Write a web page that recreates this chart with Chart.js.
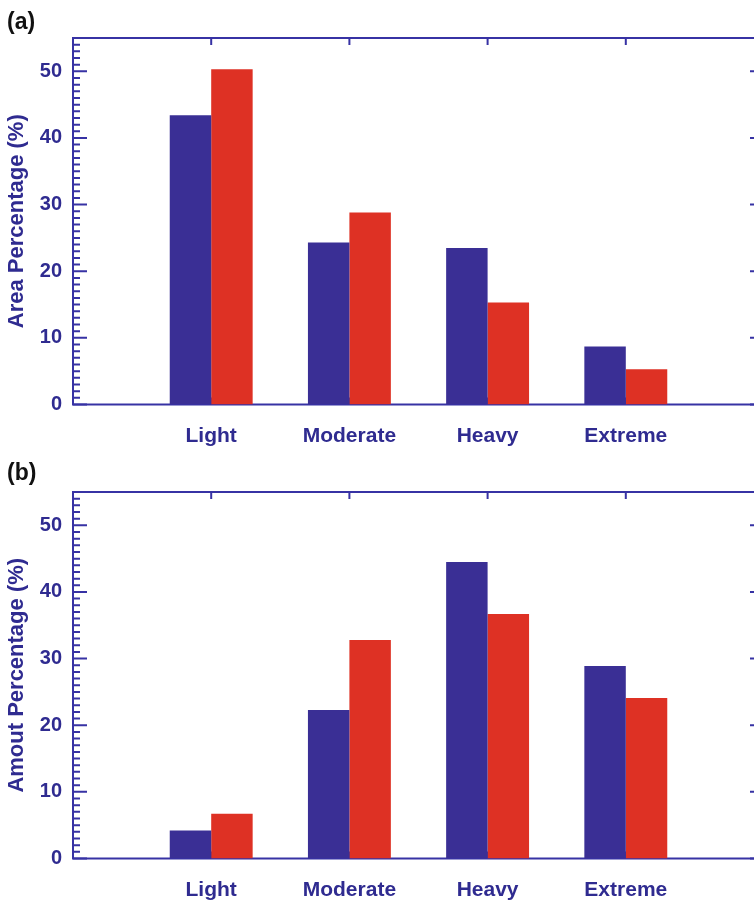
<!DOCTYPE html>
<html>
<head>
<meta charset="utf-8">
<script src="https://cdn.jsdelivr.net/npm/chart.js@4.4.1/dist/chart.umd.min.js"></script>
<style>
  html, body { margin: 0; padding: 0; background: #fff; overflow: hidden; width: 754px; height: 902px; }
  canvas { position: absolute; left: 0; }
  #chartA { top: 0; }
  #chartB { top: 454px; }
  .tag { position: absolute; left: 7px; font: bold 23px 'Liberation Sans', Arial, sans-serif; color: #111; line-height: 26px; }
</style>
</head>
<body>
<canvas id="chartA" width="783" height="460"></canvas>
<canvas id="chartB" width="783" height="460"></canvas>
<div class="tag" style="top:8px">(a)</div>
<div class="tag" style="top:459px">(b)</div>
<script>
// Rain intensity classes
const categories = ['Light', 'Moderate', 'Heavy', 'Extreme'];

// Panel (a): area percentage (%)
const areaBlue = [43.4, 24.3, 23.5, 8.7];
const areaRed  = [50.3, 28.8, 15.3, 5.3];

// Panel (b): amount percentage (%)
const amountBlue = [4.2, 22.3, 44.5, 28.9];
const amountRed  = [6.7, 32.8, 36.7, 24.1];

// Labelled y ticks; minor ticks every unit up to the axis top
const yTicks = [0, 10, 20, 30, 40, 50];
const yMax = 55;

const TEXT = '#2f2b90';
const AXIS = '#3732a4';
const BLUE = '#3a2f95';
const RED = '#de3124';
const FAMILY = "'Liberation Sans', Arial, Helvetica, sans-serif";

// Empty slots either side so the bars sit one category in from each edge
const xLabels = [''].concat(categories, ['']);
const padSeries = arr => [null].concat(arr, [null]);

// Boxed frame with inward ticks: majors/minors on both sides, category ticks top and bottom
const framePlugin = {
  id: 'frame',
  beforeDatasetsDraw(chart) {
    const { ctx, chartArea: a, scales: { x, y } } = chart;
    ctx.save();
    ctx.strokeStyle = AXIS;
    ctx.lineWidth = 2;
    ctx.beginPath();
    for (let v = 0; v <= yMax; v++) {
      const py = y.getPixelForValue(v);
      const len = yTicks.includes(v) ? 14 : 7;
      ctx.moveTo(a.left, py); ctx.lineTo(a.left + len, py);
      ctx.moveTo(a.right, py); ctx.lineTo(a.right - len, py);
    }
    categories.forEach((c, i) => {
      const px = x.getPixelForValue(i + 1);
      ctx.moveTo(px, a.top); ctx.lineTo(px, a.top + 7);
      ctx.moveTo(px, a.bottom); ctx.lineTo(px, a.bottom - 7);
    });
    ctx.stroke();
    ctx.strokeRect(a.left, a.top, a.right - a.left, a.bottom - a.top);
    ctx.restore();
  }
};

function makeChart(id, yTitle, first, second) {
  return new Chart(document.getElementById(id), {
    type: 'bar',
    data: {
      labels: xLabels,
      datasets: [
        { data: padSeries(first), backgroundColor: BLUE, borderWidth: 0 },
        { data: padSeries(second), backgroundColor: RED, borderWidth: 0 }
      ]
    },
    options: {
      responsive: false,
      animation: false,
      devicePixelRatio: 1,
      barPercentage: 1,
      categoryPercentage: 0.6,
      layout: { padding: { top: 38, right: 0, left: 0, bottom: 0 } },
      plugins: { legend: { display: false }, tooltip: { enabled: false } },
      scales: {
        x: {
          type: 'category',
          offset: false,
          grid: { display: false, drawTicks: false },
          border: { display: false },
          ticks: {
            autoSkip: false, maxRotation: 0, minRotation: 0, padding: 19,
            color: TEXT, font: { family: FAMILY, size: 21, weight: 'bold' }
          },
          afterFit: s => { s.height = 55.5; }
        },
        y: {
          min: 0,
          max: yMax,
          grid: { display: false, drawTicks: false },
          border: { display: false },
          afterBuildTicks: s => { s.ticks = yTicks.map(v => ({ value: v })); },
          afterFit: s => { s.width = 73; },
          ticks: {
            padding: 11,
            color: TEXT, font: { family: FAMILY, size: 20, weight: 'bold' }
          },
          title: {
            display: true, text: yTitle, color: TEXT,
            padding: { top: 4, bottom: 0 },
            font: { family: FAMILY, size: 22, weight: 'bold' }
          }
        }
      }
    },
    plugins: [framePlugin]
  });
}

makeChart('chartA', 'Area Percentage (%)', areaBlue, areaRed);
makeChart('chartB', 'Amout Percentage (%)', amountBlue, amountRed);
</script>
</body>
</html>
